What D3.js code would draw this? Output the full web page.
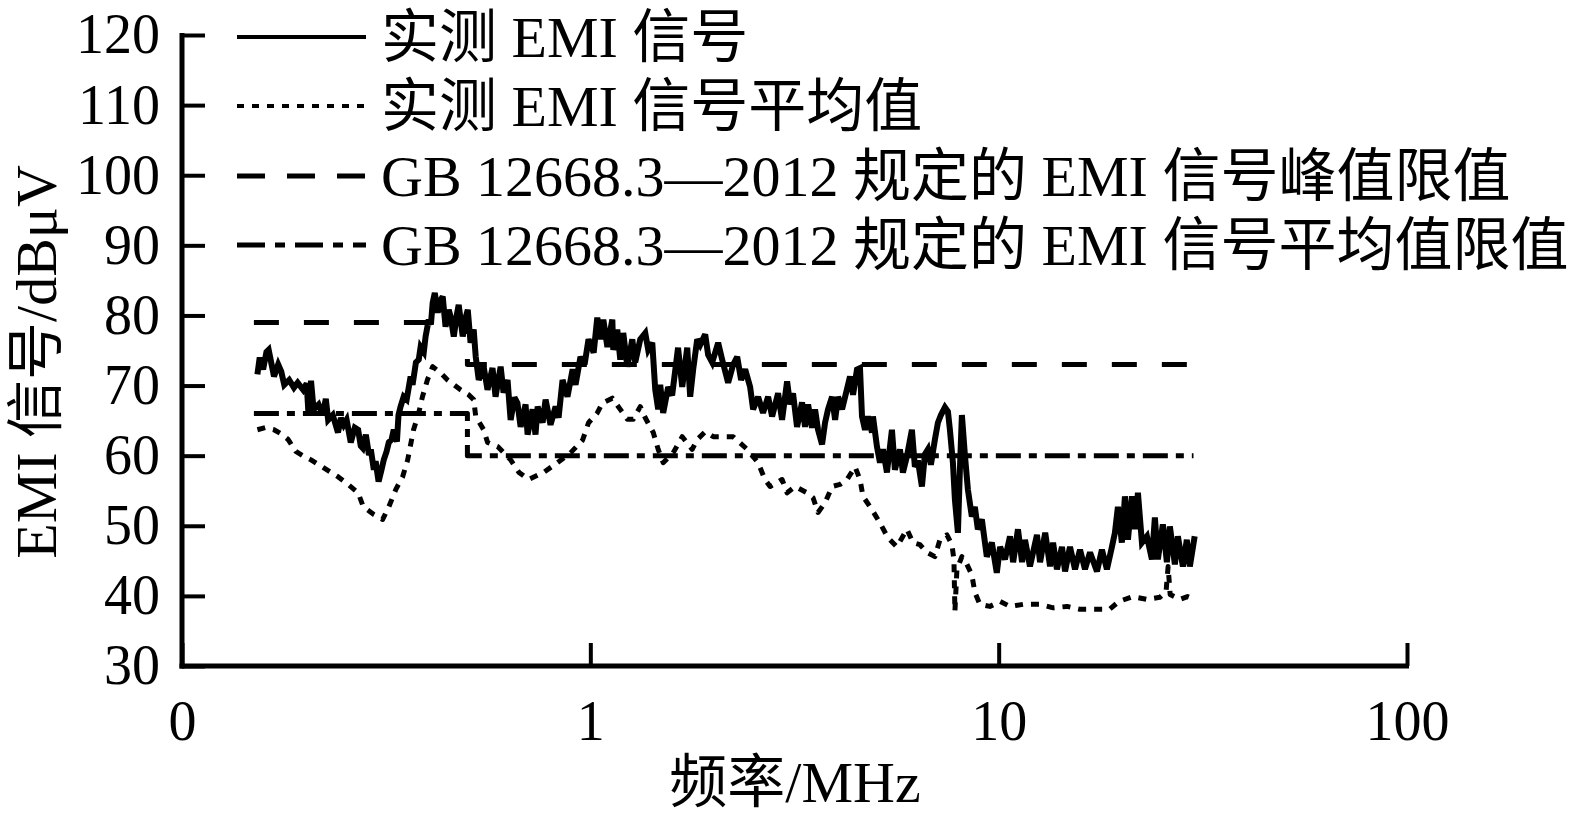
<!DOCTYPE html>
<html><head><meta charset="utf-8">
<script src="https://cdn.jsdelivr.net/npm/d3@7"></script>
<style>
body{margin:0;background:#fff;}
svg text{font-family:"Liberation Serif","Times New Roman","Noto Sans CJK SC",serif;fill:#000;}
</style></head><body>
<svg id="c" width="1572" height="820"></svg>
<script>
// ---- data ----
const xTicks=[0.1,1,10,100];
const xTickLabels=["0","1","10","100"];
const yTicks=[30,40,50,60,70,80,90,100,110,120];
const legendLabels=["实测 EMI 信号","实测 EMI 信号平均值","GB 12668.3—2012 规定的 EMI 信号峰值限值","GB 12668.3—2012 规定的 EMI 信号平均值限值"];
const xLabel="频率/MHz";
const yLabel="EMI 信号/dBμV";

const measFreq=[0.153,0.155,0.158,0.161,0.163,0.168,0.172,0.175,0.178,0.183,
0.188,0.192,0.198,0.202,0.204,0.207,0.210,0.216,0.221,0.225,
0.228,0.234,0.241,0.245,0.249,0.253,0.259,0.265,0.270,0.274,
0.277,0.282,0.287,0.290,0.295,0.298,0.303,0.308,0.312,0.317,
0.321,0.326,0.330,0.336,0.339,0.343,0.349,0.355,0.363,0.367,
0.374,0.380,0.384,0.391,0.395,0.402,0.407,0.411,0.416,0.423,
0.430,0.435,0.442,0.450,0.455,0.463,0.471,0.476,0.487,0.495,
0.501,0.509,0.518,0.524,0.533,0.548,0.560,0.576,0.586,0.603,
0.613,0.627,0.638,0.652,0.663,0.675,0.694,0.702,0.722,0.734,
0.743,0.764,0.777,0.799,0.822,0.836,0.855,0.879,0.905,0.920,
0.946,0.968,0.990,1.019,1.040,1.058,1.076,1.101,1.132,1.138,
1.164,1.184,1.204,1.232,1.267,1.288,1.325,1.363,1.386,1.418,
1.442,1.466,1.483,1.508,1.551,1.586,1.640,1.679,1.727,1.756,
1.786,1.827,1.858,1.911,1.943,1.988,2.056,2.103,2.175,2.238,
2.289,2.340,2.394,2.462,2.504,2.575,2.648,2.725,2.787,2.883,
2.948,3.033,3.084,3.136,3.208,3.300,3.356,3.414,3.491,3.551,
3.611,3.694,3.757,3.821,3.909,3.976,4.043,4.135,4.252,4.325,
4.399,4.498,4.575,4.627,4.706,4.786,4.895,4.922,5.034,5.121,
5.208,5.326,5.478,5.571,5.731,5.828,5.961,6.131,6.235,6.342,
6.487,6.597,6.710,6.824,6.980,7.099,7.221,7.386,7.512,7.596,
7.726,7.814,7.947,8.036,8.127,8.266,8.406,8.597,8.743,8.893,
9.095,9.354,9.621,9.895,10.08,10.36,10.66,10.85,11.15,11.41,
11.60,11.93,12.41,12.63,13.0,13.36,13.59,13.89,14.29,14.54,
14.95,15.38,15.82,16.27,16.74,17.41,17.90,18.41,18.94,19.26,
19.59,20.03,20.38,20.73,21.2,21.56,21.93,22.43,23.07,23.73,
24.13,24.54,25.24,25.82,26.26,27.01,27.47,28.26,28.89,29.39,
30.2];
const measVal=[71.6,74.0,72.3,74.8,75.1,71.3,73.0,72.0,70.1,70.8,
69.7,70.4,69.4,70.3,66.1,70.7,66.6,67.3,65.8,68.1,
65.1,65.8,63.3,65.4,64.4,65.1,61.9,64.0,63.7,61.4,
61.1,63.0,60.1,60.9,58.0,59.2,56.3,58.0,59.4,60.6,
61.9,62.3,63.7,62.0,65.8,67.0,68.4,68.0,71.3,70.1,
73.3,73.7,75.5,74.8,77.0,79.4,78.7,81.8,83.2,80.4,
82.2,82.7,78.4,80.8,79.8,77.0,80.1,81.5,77.0,79.7,
80.8,76.1,78.0,74.1,70.8,72.7,69.4,72.5,68.4,72.7,
69.0,70.8,65.1,68.3,67.5,64.1,67.3,63.0,66.6,63.0,
67.0,64.7,68.0,64.4,67.0,65.4,70.8,68.4,72.3,70.1,
74.1,73.0,76.6,74.7,79.7,76.6,79.4,75.5,79.4,75.1,
78.0,73.7,77.5,72.7,76.6,73.3,76.6,77.5,75.1,76.1,
69.4,66.6,70.1,66.1,69.8,68.6,75.4,69.8,75.4,68.4,
72.3,76.6,75.8,77.3,74.4,73.3,76.1,73.7,70.4,73.0,
74.1,70.8,72.3,69.8,66.6,68.4,66.1,68.4,65.6,68.9,
65.1,70.6,67.3,68.9,64.1,67.6,64.1,67.3,64.0,66.6,
63.7,61.6,64.7,66.6,68.4,65.1,68.4,66.6,69.5,71.3,
68.7,72.3,72.5,65.6,63.7,65.6,63.3,65.6,61.3,59.0,
60.9,57.6,63.7,58.0,60.9,57.6,59.9,63.7,58.4,59.3,
55.6,60.2,60.9,58.7,62.3,64.7,65.8,66.9,66.3,63.7,
59.0,53.7,49.0,58.0,65.8,60.1,55.2,51.3,52.7,49.5,
50.9,45.6,47.6,43.3,47.0,45.2,48.5,44.8,49.5,44.8,
48.0,44.2,48.7,44.8,49.0,44.2,47.6,43.8,47.0,43.5,
47.0,43.8,46.6,43.8,46.2,43.5,46.6,43.8,47.0,49.0,
52.7,47.6,54.2,48.0,54.2,49.5,54.7,47.6,48.5,45.2,
51.2,45.2,50.2,44.8,49.9,44.5,48.5,44.2,48.0,44.2,
48.5];

const avgFreq=[0.153,0.160,0.168,0.175,0.182,0.190,0.199,0.207,0.222,0.241,
0.255,0.270,0.278,0.295,0.310,0.321,0.334,0.347,0.357,0.369,
0.380,0.388,0.399,0.411,0.430,0.447,0.481,0.503,0.518,0.524,
0.548,0.560,0.593,0.638,0.669,0.706,0.768,0.831,0.894,0.957,
0.990,1.040,1.070,1.132,1.184,1.232,1.274,1.325,1.363,1.426,
1.466,1.508,1.595,1.679,1.776,1.827,1.911,2.000,2.115,2.238,
2.422,2.575,2.677,2.756,2.948,3.033,3.172,3.395,3.511,3.611,
3.757,3.909,4.088,4.252,4.449,4.575,4.653,4.895,5.121,5.356,
5.634,5.961,6.166,6.415,6.672,6.980,7.180,7.469,7.683,7.770,
7.814,7.903,8.127,8.359,8.597,8.743,8.994,9.515,10.08,10.66,
11.5,12.6,13.6,14.7,15.8,17.0,18.7,19.7,21.3,23.1,
24.8,25.7,26.0,26.3,27.8,29.0,30.2];
const avgVal=[63.7,64.0,63.7,63.1,62.3,60.6,59.9,59.4,58.3,57.0,
55.9,54.7,52.7,51.6,50.9,52.7,55.2,57.0,59.4,63.7,
66.1,68.4,70.8,72.7,71.8,70.8,69.4,68.7,68.0,65.6,
63.7,61.9,61.3,59.4,57.6,56.6,57.6,59.0,60.4,62.2,
64.7,66.1,67.5,68.2,66.6,65.2,65.2,67.0,65.4,63.3,
60.9,59.0,60.4,62.7,60.9,62.3,63.4,62.7,62.7,62.7,
60.9,59.0,56.6,55.6,56.6,54.7,55.6,54.7,54.0,51.9,
53.3,55.6,55.9,56.6,58.4,56.6,54.2,52.3,50.4,48.3,
47.0,49.5,47.6,47.3,46.2,45.6,48.0,48.7,47.3,45.2,
37.8,43.8,45.6,44.5,43.0,40.5,38.8,38.5,39.2,38.5,
38.8,38.8,38.3,38.5,38.1,38.1,38.1,39.2,39.9,39.5,
39.8,40.6,44.2,40.2,39.5,39.9,39.5];

const peakLimitFreq=[0.15,0.5,0.5,30];
const peakLimitVal=[79,79,73,73];
const avgLimitFreq=[0.15,0.5,0.5,30];
const avgLimitVal=[66,66,60,60];

// ---- drawing ----
const svg=d3.select("#c");
const x=d3.scaleLog().domain([0.1,100]).range([182,1407]);
const y=d3.scaleLinear().domain([30,120]).range([666,35]);

const styles=[
  {w:6,dash:null,legW:4,legDash:null},
  {w:5,dash:"8,8",legW:4,legDash:"7,8"},
  {w:5,dash:"25,25",legW:5,legDash:"28,22"},
  {w:5,dash:"25,8,8,8",legW:5,legDash:"28,10,10,10"}
];
const zipPts=(fs,vs)=>fs.map((f,i)=>({f:f,v:vs[i]}));
const series=[
  zipPts(measFreq,measVal),
  zipPts(avgFreq,avgVal),
  zipPts(peakLimitFreq,peakLimitVal),
  zipPts(avgLimitFreq,avgLimitVal)
];
const line=d3.line().x(d=>x(d.f)).y(d=>y(d.v));

[2,3,1,0].forEach(i=>{
  svg.append("path").datum(series[i])
    .attr("d",line)
    .attr("fill","none")
    .attr("stroke","#000")
    .attr("stroke-width",styles[i].w)
    .attr("stroke-linejoin",i===0?"miter":"round")
    .attr("stroke-miterlimit",3)
    .attr("stroke-dasharray",styles[i].dash);
});

// axes
const yAxis=d3.axisLeft(y).tickValues(yTicks).tickSize(-23).tickSizeOuter(0).tickPadding(22);
const gy=svg.append("g").attr("transform","translate(182,0)").call(yAxis);
const xAxis=d3.axisBottom(x).tickValues(xTicks).tickFormat((d,i)=>xTickLabels[i]).tickSize(-23).tickSizeOuter(0).tickPadding(34);
const gx=svg.append("g").attr("transform","translate(0,666)").call(xAxis);
[gx,gy].forEach(g=>{
  g.attr("font-family",null).attr("font-size",null);
  g.select(".domain").attr("stroke","#000").attr("stroke-width",5);
  g.selectAll(".tick line").attr("stroke","#000").attr("stroke-width",4);
  g.selectAll(".tick text").attr("fill","#000").style("font-size","56px");
});
gx.select(".domain").attr("d","M179.5,0H1409");
gy.select(".domain").attr("d","M0,668.5V33");

// legend
const legX1=237, legX2=366;
const legRows=[37,106,176,245];
legendLabels.forEach((lab,i)=>{
  const g=svg.append("g");
  g.append("path")
    .attr("d",d3.line()([[legX1,legRows[i]],[legX2,legRows[i]]]))
    .attr("stroke","#000").attr("stroke-width",styles[i].legW)
    .attr("stroke-dasharray",styles[i].legDash);
  g.append("text").attr("x",381).attr("y",legRows[i]).attr("dy","0.35em")
    .style("font-size","58px").text(lab);
});

// axis titles
svg.append("text").attr("x",795).attr("y",782).attr("dy","0.35em")
  .attr("text-anchor","middle").style("font-size","58px").text(xLabel);
svg.append("text").attr("transform","translate(36,362) rotate(-90)").attr("dy","0.35em")
  .attr("text-anchor","middle").style("font-size","58px").text(yLabel);
</script>
</body></html>
